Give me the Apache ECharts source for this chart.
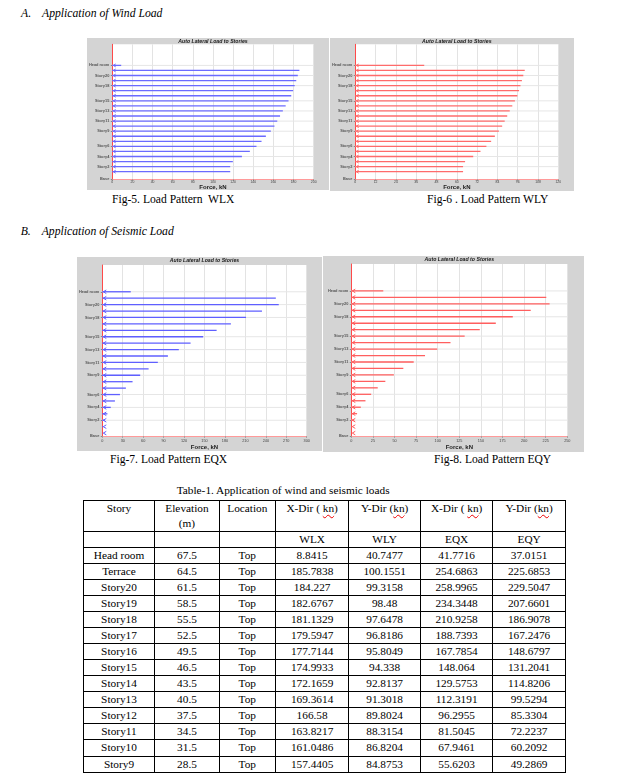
<!DOCTYPE html>
<html><head><meta charset="utf-8">
<script src="https://cdn.jsdelivr.net/npm/echarts@6/dist/echarts.min.js"></script>
<style>
html,body{margin:0;padding:0;background:#fff;}
#page{position:relative;width:617px;height:780px;overflow:hidden;font-family:'Liberation Serif','Times New Roman',serif;color:#000;}
.t{position:absolute;line-height:1;white-space:pre;}
.it{font-style:italic;font-size:11.7px;}
.cap{font-size:11.6px;}
.chart{position:absolute;}
#tbl{position:absolute;left:82.7px;top:500px;border-collapse:collapse;table-layout:fixed;font-size:11.3px;font-family:'Liberation Serif','Times New Roman',serif;}
#tbl td{border:1px solid #000;text-align:center;padding:0;overflow:hidden;white-space:nowrap;}
#tbl tr.h1 td{vertical-align:top;height:30px;line-height:15px;}
#tbl tr.h2 td{height:14.7px;line-height:13px;}
#tbl tr.d td{height:15.07px;line-height:13px;}
.sp{text-decoration:underline wavy #e00;text-decoration-thickness:1px;text-underline-offset:2px;}
</style></head>
<body><div id="page">
<div class="t it" style="left:21px;top:7.5px;">A.</div>
<div class="t it" style="left:42px;top:7.5px;">Application of Wind Load</div>
<div id="c1" class="chart" style="left:87px;top:38px;width:242px;height:152px;"></div>
<div id="c2" class="chart" style="left:330px;top:38px;width:244px;height:153px;"></div>
<div class="t cap" style="left:112px;top:194.3px;">Fig-5. Load Pattern  WLX</div>
<div class="t cap" style="left:427px;top:194.3px;">Fig-6 . Load Pattern WLY</div>
<div class="t it" style="left:20.7px;top:225.5px;">B.</div>
<div class="t it" style="left:41.7px;top:225.5px;">Application of Seismic Load</div>
<div id="c3" class="chart" style="left:77px;top:257px;width:245px;height:194px;"></div>
<div id="c4" class="chart" style="left:323px;top:256px;width:261px;height:196px;"></div>
<div class="t cap" style="left:110px;top:454px;">Fig-7. Load Pattern EQX</div>
<div class="t cap" style="left:434px;top:454.3px;">Fig-8. Load Pattern EQY</div>
<div class="t" style="left:176.7px;top:484.8px;font-size:11.3px;">Table-1. Application of wind and seismic loads</div>
<table id="tbl">
<colgroup><col style="width:71.6px"><col style="width:64.4px"><col style="width:56.3px"><col style="width:73.3px"><col style="width:71.7px"><col style="width:72.3px"><col style="width:72.7px"></colgroup>
<tbody id="tb"></tbody>
</table>
</div>
<script>
// ---- data ----
const levels = ['Head room','Terrace','Story20','Story19','Story18','Story17','Story16','Story15','Story14','Story13','Story12','Story11','Story10','Story9','Story8','Story7','Story6','Story5','Story4','Story3','Story2','Story1','Plinth'];
const elevations = [67.5,64.5,61.5,58.5,55.5,52.5,49.5,46.5,43.5,40.5,37.5,34.5,31.5,28.5,25.5,22.5,19.5,16.5,13.5,10.5,7.5,4.5,1.5];
const WLX = [8.8415,185.7838,184.227,182.6767,181.1329,179.5947,177.7144,174.9933,172.1659,169.3614,166.58,163.8217,161.0486,157.4405,152.5,148.2,143.2,136.6,128.7,119.7,117.1,117.1,null];
const WLY = [40.7477,100.1551,99.3158,98.48,97.6478,96.8186,95.8049,94.338,92.8137,91.3018,89.8024,88.3154,86.8204,84.8753,82.5,80.3,77.5,74.0,69.7,64.9,63.7,63.7,null];
const EQX = [41.7716,254.6863,258.9965,234.3448,210.9258,188.7393,167.7854,148.064,129.5753,112.3191,96.2955,81.5045,67.9461,55.6203,44.4,34.6,25.9,18.5,12.4,7.5,3.8,1.4,0.2];
const EQY = [37.0151,225.6853,229.5047,207.6601,186.9078,167.2476,148.6797,131.2041,114.8206,99.5294,85.3304,72.2237,60.2092,49.2869,39.4,30.6,23.0,16.4,11.0,6.7,3.4,1.2,0.2];
const ticksWLX = [0,20,40,60,80,100,120,140,160,180,200];
const ticksWLY = [0,12,24,36,48,60,72,84,96,108,120];
const ticksEQX = [0,30,60,90,120,150,180,210,240,270,300];
const ticksEQY = [0,25,50,75,100,125,150,175,200,225,250];
const labelledLevels = ['Head room','Story20','Story18','Story15','Story13','Story11','Story9','Story6','Story4','Story2','Base'];
const tableRows = 14;
const storyLocation = 'Top';

// ---- table ----
(function(){
  const tb = document.getElementById('tb');
  let html = '<tr class="h1"><td>Story</td><td>Elevation<br>(m)</td><td>Location</td>' +
    '<td>X-Dir ( <span class="sp">kn</span>)</td><td>Y-Dir (<span class="sp">kn</span>)</td>' +
    '<td>X-Dir ( <span class="sp">kn</span>)</td><td>Y-Dir (<span class="sp">kn</span>)</td></tr>';
  html += '<tr class="h2"><td></td><td></td><td></td><td>WLX</td><td>WLY</td><td>EQX</td><td>EQY</td></tr>';
  for (let i = 0; i < tableRows; i++) {
    html += '<tr class="d"><td>' + levels[i] + '</td><td>' + elevations[i] + '</td><td>' + storyLocation +
      '</td><td>' + WLX[i] + '</td><td>' + WLY[i] + '</td><td>' + EQX[i] + '</td><td>' + EQY[i] + '</td></tr>';
  }
  tb.innerHTML = html;
})();

// ---- charts ----
function elevOf(name){ return name === 'Base' ? 0 : elevations[levels.indexOf(name)]; }

function build(id, values, ticks, color, cfg){
  const el = document.getElementById(id);
  const W = el.clientWidth;
  const chart = echarts.init(el, null, {renderer:'canvas'});
  const labelVals = labelledLevels.map(elevOf);
  const nameByElev = {};
  labelledLevels.forEach(n => { nameByElev[elevOf(n)] = n; });
  const loadData = [];
  values.forEach((v, i) => { if (v != null) loadData.push([v, elevations[i]]); });
  const gridData = labelVals.filter(e => e > 0).map(e => [0, e]);
  const g = cfg.grid;
  const titleX = g.left + (W - g.left - g.right) / 2;
  const font = 'Liberation Sans';
  chart.setOption({
    animation:false,
    backgroundColor:'#d4d4d4',
    textStyle:{fontFamily:font},
    title:{text:'Auto Lateral Load to Stories', left:titleX, top:cfg.titleTop, textAlign:'center', padding:0,
      textStyle:{fontSize:5.2, fontStyle:'italic', fontWeight:'bold', color:'#1a1a1a', fontFamily:font}},
    grid:{left:g.left, right:g.right, top:g.top, bottom:g.bottom, show:true, backgroundColor:'#ffffff', borderWidth:0,
      containLabel:false, outerBoundsMode:'none'},
    xAxis:{type:'value', min:ticks[0], max:ticks[ticks.length-1], interval:ticks[1]-ticks[0],
      axisLine:{show:true, onZero:false, lineStyle:{color:'#ff9a9a', width:1}},
      axisTick:{show:true, length:1.5, lineStyle:{color:'#999'}},
      axisLabel:{fontSize:cfg.xFont, margin:cfg.xMargin, color:'#444', showMaxLabel:true, showMinLabel:true},
      splitLine:{show:true, lineStyle:{color:'#e3e3e3', width:1}},
      name:'Force, kN', nameLocation:'middle', nameGap:cfg.nameGap, nameMoveOverlap:false,
      nameTextStyle:{fontSize:6, fontWeight:'bold', color:'#222', fontFamily:font}},
    yAxis:{type:'value', min:0, max:80,
      axisLine:{show:true, onZero:false, lineStyle:{color:'#ff4a4a', width:1}},
      axisTick:{show:true, length:1.5, customValues:labelVals, lineStyle:{color:'#888'}},
      axisLabel:{customValues:labelVals, formatter:v => nameByElev[v] || '', fontSize:3.9, fontWeight:'bold', color:'#555', margin:3},
      splitLine:{show:false}},
    series:[
      {type:'custom', silent:true, z:1, data:gridData, encode:{x:0, y:1},
        renderItem:(params, api) => {
          const cs = params.coordSys;
          const y = api.coord([0, api.value(1)])[1];
          return {type:'line', shape:{x1:cs.x, y1:y, x2:cs.x + cs.width, y2:y}, style:{stroke:'#e6e6e6', lineWidth:1}};
        }},
      {type:'custom', z:3, data:loadData, encode:{x:0, y:1},
        renderItem:(params, api) => {
          const h = api.value(1);
          const p0 = api.coord([0, h]);
          const p1 = api.coord([api.value(0), h]);
          const a = cfg.arrow;
          return {type:'group', children:[
            {type:'line', shape:{x1:p0[0], y1:p0[1], x2:p1[0], y2:p1[1]}, style:{stroke:color, lineWidth:cfg.lw}},
            {type:'polyline', shape:{points:[[p0[0] + 1 + a, p0[1] - a * 0.6], [p0[0] + 1, p0[1]], [p0[0] + 1 + a, p0[1] + a * 0.6]]},
              style:{stroke:color, fill:null, lineWidth:1}}
          ]};
        }}
    ]
  });
}

build('c1', WLX, ticksWLX, '#6b6bff', {grid:{left:25.3, right:15.3, top:6.3, bottom:10.7}, titleTop:0.6, xFont:3.4, xMargin:1.5, nameGap:5, arrow:2.4, lw:1.3});
build('c2', WLY, ticksWLY, '#ff6b6b', {grid:{left:25.3, right:15.7, top:6.3, bottom:11.7}, titleTop:0.6, xFont:3.4, xMargin:1.5, nameGap:5.5, arrow:2.4, lw:1.3});
build('c3', EQX, ticksEQX, '#5f5fff', {grid:{left:25.3, right:15.3, top:8, bottom:14.7}, titleTop:0.8, xFont:3.8, xMargin:3, nameGap:8, arrow:3, lw:1.3});
build('c4', EQY, ticksEQY, '#ff5f5f', {grid:{left:28.3, right:16.7, top:8, bottom:15.7}, titleTop:0.8, xFont:3.8, xMargin:3, nameGap:8, arrow:3, lw:1.3});
</script>
</body></html>
